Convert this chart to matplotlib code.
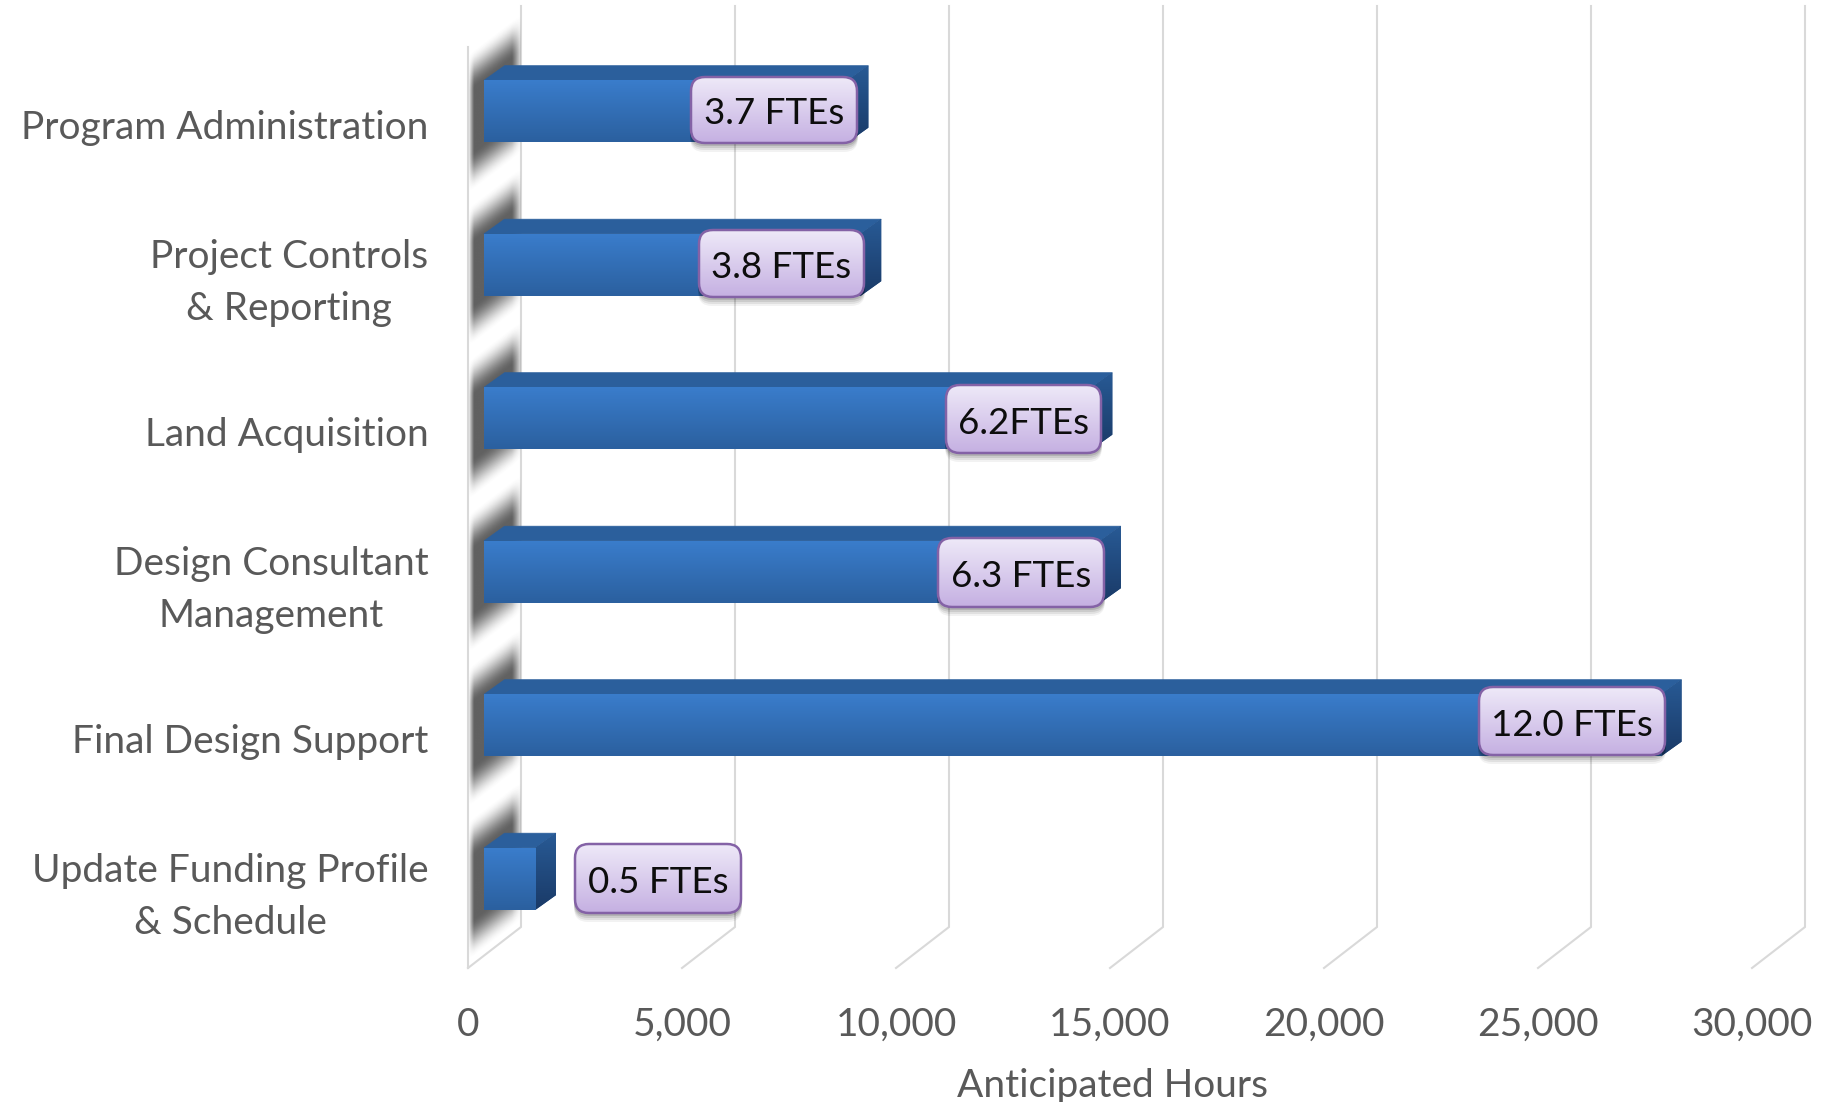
import numpy as np
import matplotlib
matplotlib.use("Agg")
import matplotlib.pyplot as plt
from matplotlib.patches import FancyBboxPatch, Polygon
from matplotlib.transforms import Affine2D

categories = ["Program Administration", "Project Controls\n& Reporting", "Land Acquisition",
              "Design Consultant\nManagement", "Final Design Support", "Update Funding Profile\n& Schedule"]
hours = [8500, 8800, 14200, 14400, 27500, 1200]
fte_labels = ["3.7 FTEs", "3.8 FTEs", "6.2FTEs", "6.3 FTEs", "12.0 FTEs", "0.5 FTEs"]
x_ticks = [0, 5000, 10000, 15000, 20000, 25000, 30000]
x_tick_labels = ["0", "5,000", "10,000", "15,000", "20,000", "25,000", "30,000"]
x_title = "Anticipated Hours"

# layout (pixels, top-down): label boxes as left, right, top, bottom
label_boxes = [(691, 857, 77, 143), (699, 864, 230, 297), (946, 1101, 385, 453),
               (938, 1104, 538, 607), (1479, 1665, 687, 755), (575, 741, 844, 913)]

W, H = 1829, 1102
FONT = "Lato"
TICK_COLOR = "#595959"
GRID = "#d9d9d9"
fig = plt.figure(figsize=(W / 100, H / 100), dpi=100, facecolor="white")
L, R, T, B = 468, 1752, 47, 968
ax = fig.add_axes([L / W, 1 - B / H, (R - L) / W, (B - T) / H])
pix = Affine2D().scale(1, -1).translate(0, H)

# oblique depth expressed in data units
depth_x = 53 / (R - L) * 30000
depth_y = 41 / ((B - T) / 6)
y_pos = np.arange(len(categories))
ylim = (len(categories) - 0.5, -0.5)
xlim = (0, 30000)

# gridlines: back wall vertical + floor diagonal
for t in x_ticks:
    ax.plot([t + depth_x, t + depth_x, t], [-0.5 - depth_y, ylim[0] - depth_y, ylim[0]],
            color=GRID, lw=1.5, clip_on=False, zorder=1, solid_joinstyle="miter")
ax.plot([0, 0], [-0.5, ylim[0]], color=GRID, lw=1.5, clip_on=False, zorder=1)

# wall shadow cast by the bars
nx, ny = 110, 1900
xs = np.linspace(0, depth_x, nx)
ys = np.linspace(-0.5 - depth_y, ylim[0], ny)
gx, gy = np.meshgrid(xs, ys)
tt = gx / depth_x
yf = gy + depth_y * tt
dist = np.min(np.abs(yf[..., None] - y_pos[None, None, :]), axis=-1)
u = np.clip((0.46 - dist) / (0.46 - 0.20), 0, 1)
shade = u * u * (3 - 2 * u)
edge = np.clip((tt - 0.01) / 0.10, 0, 1) * np.clip((1.0 - tt) / 0.18, 0, 1)
edge = edge ** 0.8
rgba = np.zeros((ny, nx, 4))
rgba[..., :3] = 0.22
rgba[..., 3] = 0.80 * shade * edge
wall = Polygon([(0, -0.5), (depth_x, -0.5 - depth_y), (depth_x, ylim[0] - depth_y), (0, ylim[0])],
               closed=True, fc="none", ec="none", clip_on=False)
ax.add_patch(wall)
im = ax.imshow(rgba, extent=(0, depth_x, ys[-1], ys[0]), origin="upper", aspect="auto",
               interpolation="bilinear", zorder=2)
im.set_clip_box(fig.bbox)
im.set_clip_path(wall)


def gradient(top, bottom, n=64):
    c0, c1 = np.array(matplotlib.colors.to_rgb(top)), np.array(matplotlib.colors.to_rgb(bottom))
    f = np.linspace(0, 1, n)[:, None]
    return (c0 + (c1 - c0) * f)[:, None, :]


def fill_gradient(patch, extent, top, bottom, z, transform=None):
    kw = {} if transform is None else {"transform": transform}
    img = ax.imshow(gradient(top, bottom), extent=extent, origin="upper", aspect="auto",
                    interpolation="bilinear", zorder=z, **kw)
    img.set_clip_box(fig.bbox)
    img.set_clip_path(patch)
    return img


# bars
t0 = 0.30
bar_h = 0.404
front_left = t0 * depth_x
dx = 0.39 * depth_x
dy = 0.36 * depth_y
yc = y_pos - t0 * depth_y
bars = ax.barh(yc, hours, left=front_left, height=bar_h, color="#2f6cb3", edgecolor="none", zorder=4)
for bar, y, v in zip(bars, yc, hours):
    bar.set_clip_on(False)
    x0, x1 = front_left, front_left + v
    y0, y1 = y - bar_h / 2, y + bar_h / 2
    ax.add_patch(Polygon([(x0, y0), (x0 + dx, y0 - dy), (x1 + dx, y0 - dy), (x1, y0)], closed=True,
                         fc="#2b5f9c", ec="#2b5f9c", lw=0.5, zorder=4, clip_on=False))
    side = Polygon([(x1, y0), (x1 + dx, y0 - dy), (x1 + dx, y1 - dy), (x1, y1)], closed=True,
                   fc="#1f4a80", ec="none", zorder=4, clip_on=False)
    ax.add_patch(side)
    fill_gradient(side, (x1, x1 + dx, y1, y0 - dy), "#285a95", "#1a3a67", 4.1)
    fill_gradient(bar, (x0, x1, y1, y0), "#3a7dcc", "#2b609f", 4.1)

# FTE call-outs
for (l, r, t, b), txt in zip(label_boxes, fte_labels):
    for off, a in ((9, 0.05), (7, 0.07), (5, 0.09), (3, 0.12)):
        ax.add_patch(FancyBboxPatch((l - 1, t + off), r - l + 2, b - t, boxstyle="round,pad=0,rounding_size=14",
                                    fc="black", ec="none", alpha=a, transform=pix, zorder=5, clip_on=False))
    box = FancyBboxPatch((l, t), r - l, b - t, boxstyle="round,pad=0,rounding_size=14",
                         fc="none", ec="#8462a6", lw=1.8, transform=pix, zorder=6.2, clip_on=False)
    ax.add_patch(box)
    fill_gradient(box, (l, r, b, t), "#eee9f8", "#c5b0e2", 6, transform=pix)
    ax.text((l + r) / 2, (t + b) / 2 + 4, txt, transform=pix, ha="center", va="center", fontsize=26.5,
            family=FONT, color="#0d0d0d", zorder=7)

# axes
ax.set_xlim(*xlim)
ax.set_ylim(*ylim)
ax.set_xticks(x_ticks)
ax.set_xticklabels(x_tick_labels, fontsize=28, family=FONT, color=TICK_COLOR)
ax.set_yticks(y_pos)
ax.set_yticklabels(categories, fontsize=28, family=FONT, color=TICK_COLOR, multialignment="center", linespacing=1.57)
ax.tick_params(axis="both", length=0)
ax.tick_params(axis="x", pad=28)
ax.tick_params(axis="y", pad=28.5)
ax.set_xlabel(x_title, fontsize=28, family=FONT, color=TICK_COLOR, va="center")
ax.xaxis.set_label_coords(0.5016, -(1086 - B) / (B - T))
for lab in ax.get_yticklabels():
    shift = 6 if "\n" in lab.get_text() else -1
    lab.set_transform(lab.get_transform() + Affine2D().translate(0, shift))
for s in ax.spines.values():
    s.set_visible(False)
ax.patch.set_visible(False)

fig.savefig("out.png", dpi=100, facecolor="white")
